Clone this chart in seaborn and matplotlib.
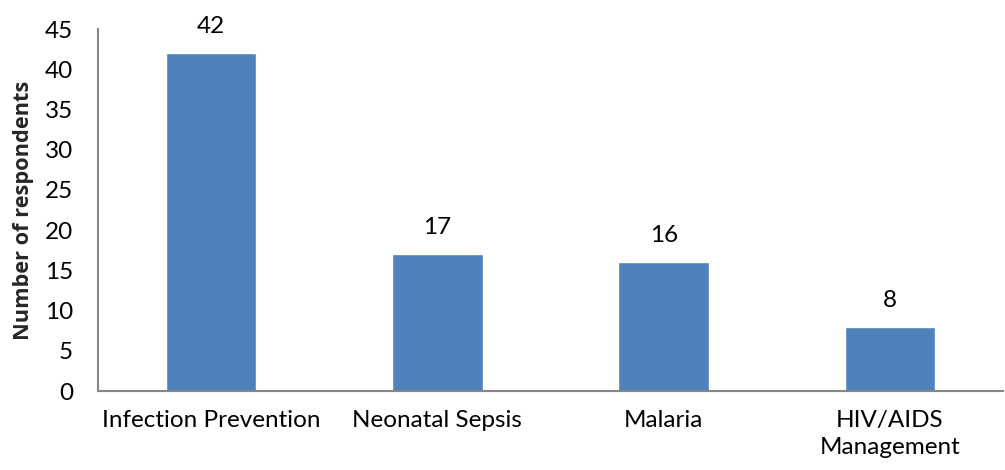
import matplotlib
matplotlib.use("Agg")
import matplotlib.pyplot as plt
import seaborn as sns
import pandas as pd

categories = ["Infection Prevention", "Neonatal Sepsis", "Malaria", "HIV/AIDS\nManagement"]
respondents = [42, 17, 16, 8]
y_ticks = [0, 5, 10, 15, 20, 25, 30, 35, 40, 45]

sns.set_theme(style="white")
plt.rcParams["font.family"] = ["Lato", "DejaVu Sans"]

df = pd.DataFrame({"topic": categories, "count": respondents})

fig = plt.figure(figsize=(10.05, 4.7), dpi=100)
ax = fig.add_axes([0.0975, 0.168, 0.9005, 0.77])

sns.barplot(data=df, x="topic", y="count", color="#4F81BD", saturation=1,
            width=0.4, ax=ax)

for patch, val in zip(ax.patches, respondents):
    ax.text(patch.get_x() + patch.get_width() / 2, val + 3.3, f"{val}",
            ha="center", va="center", fontsize=17.5, color="black")

ax.set_ylim(0, 45)
ax.set_xlim(-0.5, len(categories) - 0.5)
ax.set_yticks(y_ticks)
ax.tick_params(axis="both", length=0, labelsize=17.5, colors="black")
ax.tick_params(axis="x", pad=14)
ax.tick_params(axis="y", pad=18)
for lbl in ax.get_xticklabels():
    lbl.set_linespacing(1.35)
ax.set_xlabel("")
ax.set_ylabel("Number of respondents", fontsize=15.7, fontweight="bold",
              family=["Open Sans", "DejaVu Sans"], labelpad=8)

for side in ["top", "right"]:
    ax.spines[side].set_visible(False)
for side in ["left", "bottom"]:
    ax.spines[side].set_color("#868686")
    ax.spines[side].set_linewidth(1.5)

fig.savefig("out.png", dpi=100)
